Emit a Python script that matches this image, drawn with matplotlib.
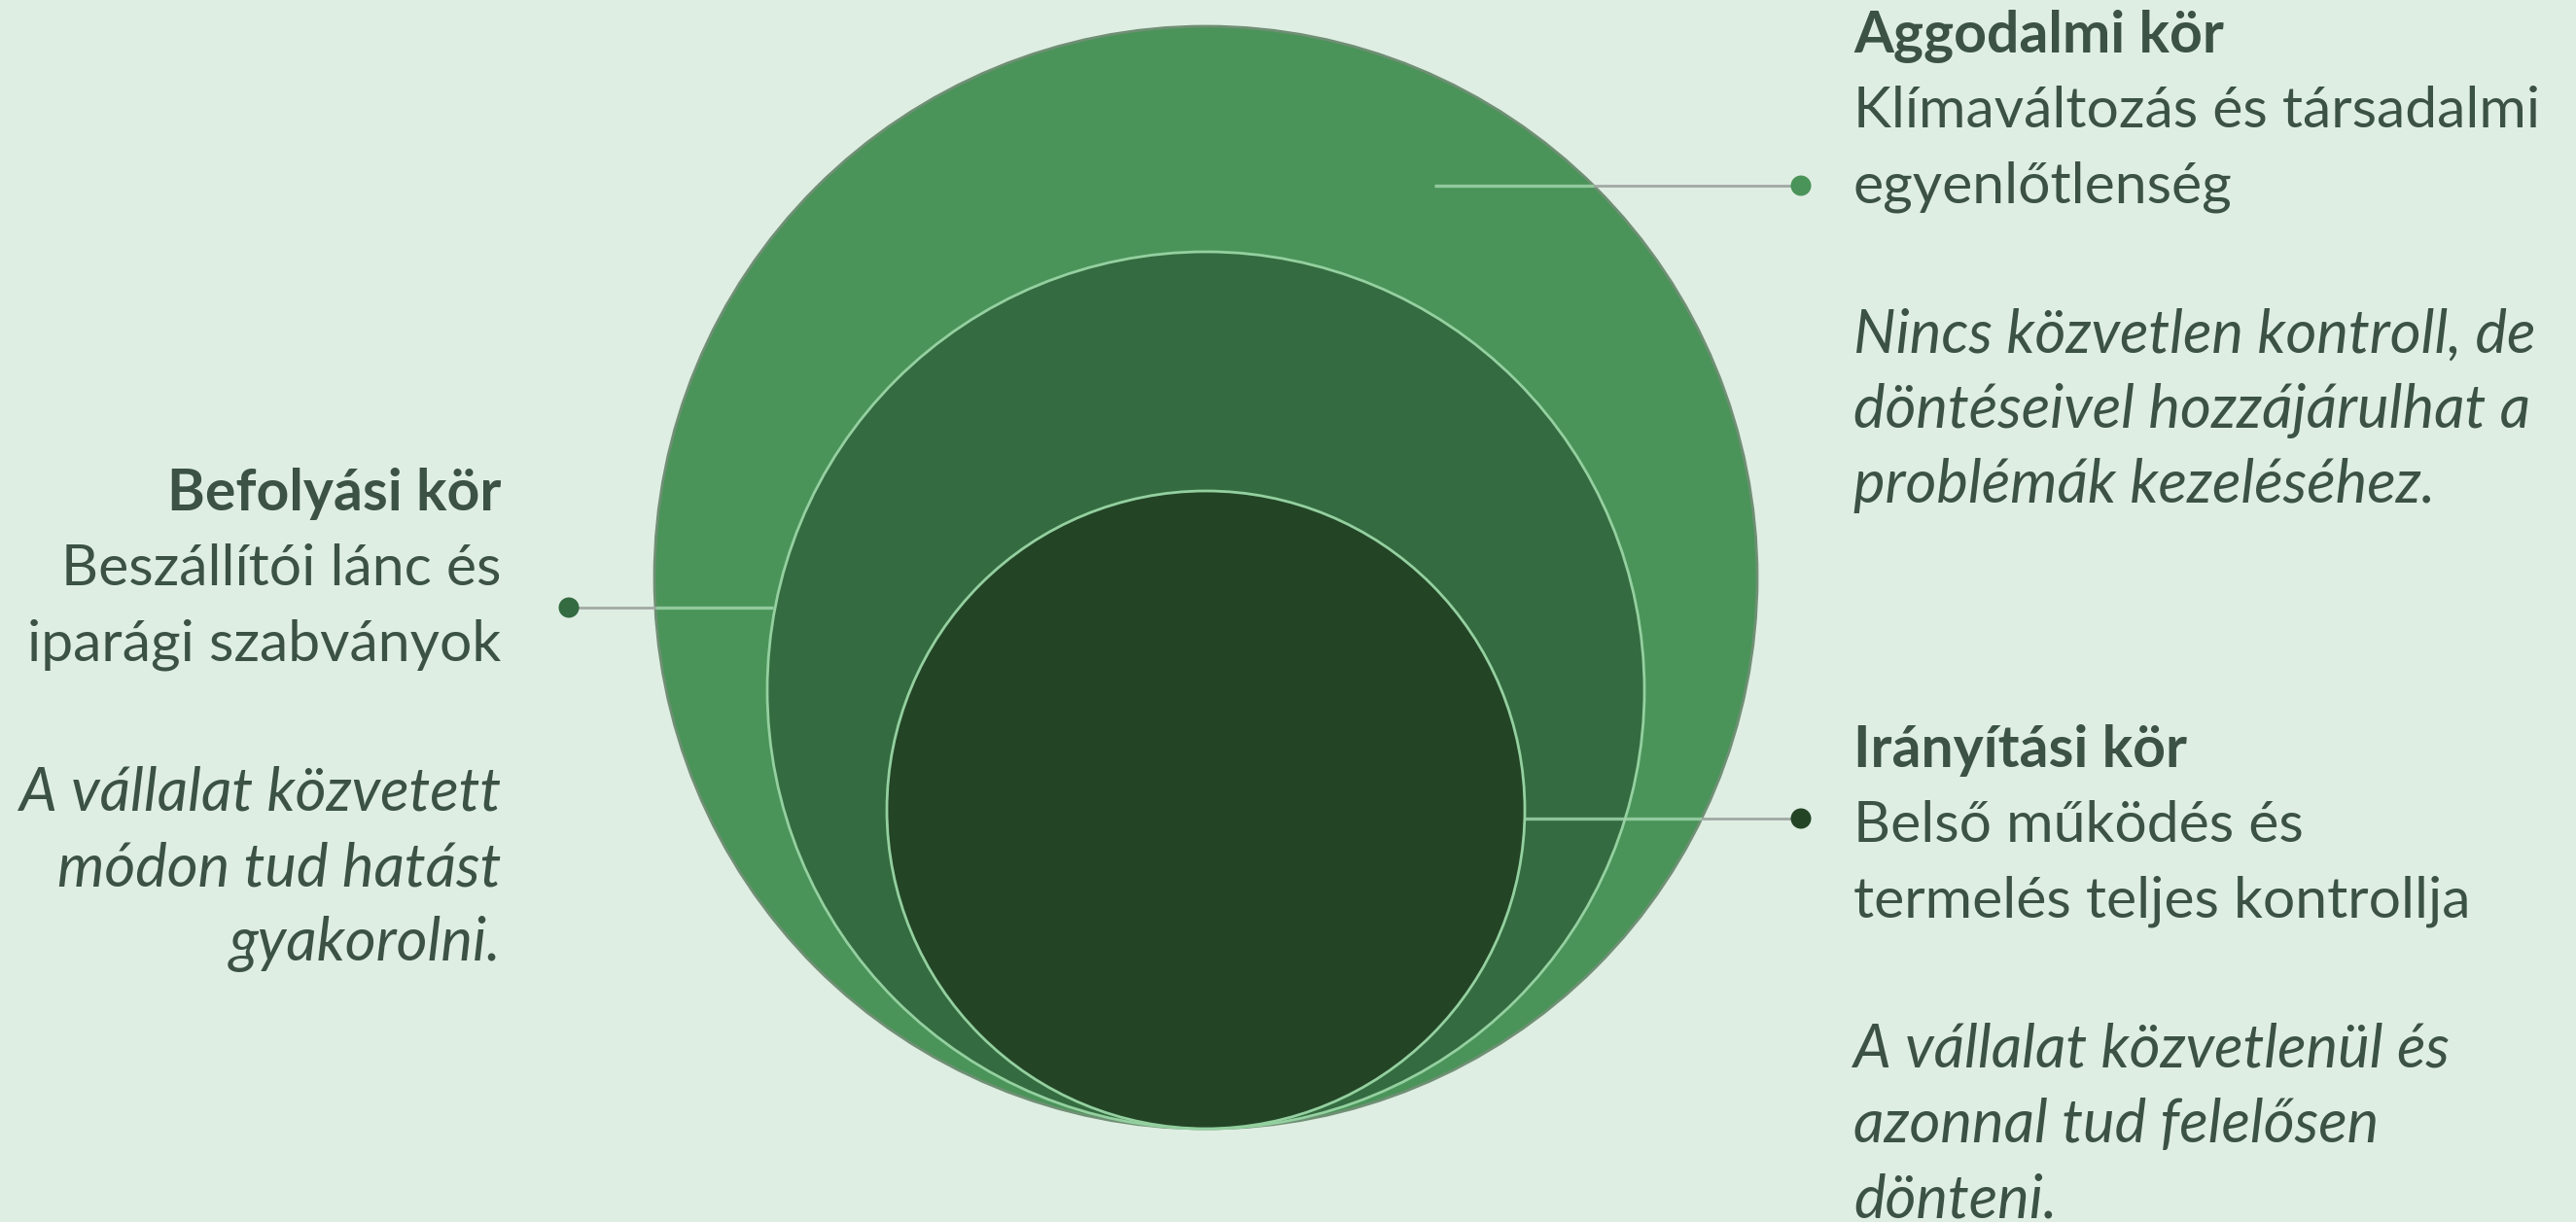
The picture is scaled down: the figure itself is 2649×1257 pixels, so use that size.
import matplotlib.pyplot as plt
from matplotlib.patches import Circle

# circles, from the outermost to the innermost
names = ["Aggodalmi kör", "Befolyási kör", "Irányítási kör"]
radii = [567, 451, 328]
descriptions = [
    ["Klímaváltozás és társadalmi", "egyenlőtlenség"],
    ["Beszállítói lánc és", "iparági szabványok"],
    ["Belső működés és", "termelés teljes kontrollja"],
]
notes = [
    ["Nincs közvetlen kontroll, de", "döntéseivel hozzájárulhat a", "problémák kezeléséhez."],
    ["A vállalat közvetett", "módon tud hatást", "gyakorolni."],
    ["A vállalat közvetlenül és", "azonnal tud felelősen", "dönteni."],
]

BG = "#dfeee3"
FILLS = ["#4a9459", "#346b40", "#234526"]
EDGES = ["#6f8f74", "#94d0a0", "#94d0a0"]
TXT = "#3b5244"
FONT = "Lato"

W, H = 2649, 1257
CX, BOTTOM = 1240, 1161

# label layout: (text x, align, first baseline, connector y, connector start x, dot x)
layout = [
    (1906, "left", 54, 191, 1475, 1852),
    (515, "right", 525, 625, 795, 585),
    (1906, "left", 789, 842, 1568, 1852),
]
LINE_H = 77.2

fig = plt.figure(figsize=(W / 100, H / 100), dpi=100)
fig.patch.set_facecolor(BG)
ax = fig.add_axes([0, 0, 1, 1])
ax.set_xlim(0, W)
ax.set_ylim(H, 0)
ax.axis("off")
ax.set_facecolor(BG)

for r, fc, ec in zip(radii, FILLS, EDGES):
    ax.add_patch(Circle((CX, BOTTOM - r), r, facecolor=fc, edgecolor=ec, lw=2.0, zorder=1))

# connectors: light part inside the circles, grey part outside
outer_r = radii[0]
outer_cy = BOTTOM - outer_r
for (tx, ha, y0, ly, x_start, x_dot), fc in zip(layout, FILLS):
    dx = (outer_r ** 2 - (ly - outer_cy) ** 2) ** 0.5
    x_edge = CX + dx if x_dot > CX else CX - dx
    ax.plot([x_start, x_edge], [ly, ly], color="#9fd3aa", lw=2.4, alpha=0.85,
            solid_capstyle="butt", zorder=3)
    ax.plot([x_edge, x_dot], [ly, ly], color="#a2a9a4", lw=2.0,
            solid_capstyle="butt", zorder=3)
    ax.add_patch(Circle((x_dot, ly), 10.5, facecolor=fc, edgecolor="none", zorder=4))


def fit_size(s, target, **kw):
    probe = ax.text(0, 0, s, fontsize=40, family=FONT, **kw)
    fig.canvas.draw()
    size = 40 * target / probe.get_window_extent().width
    probe.remove()
    return size


# fit font sizes to the reference widths of one regular and one italic line
fs = fit_size("Klímaváltozás és társadalmi", 706)
fs_it = fit_size("Nincs közvetlen kontroll, de", 701, fontstyle="italic")

for name, desc, note, (tx, ha, y0, *_rest) in zip(names, descriptions, notes, layout):
    lines = [(name, "bold", "normal", fs)] + [(d, "normal", "normal", fs) for d in desc]
    lines += [("", "normal", "normal", fs)] + [(n, "normal", "italic", fs_it) for n in note]
    for i, (s, weight, style, size) in enumerate(lines):
        if s:
            ax.text(tx, y0 + i * LINE_H, s, ha=ha, va="baseline", fontsize=size,
                    family=FONT, fontweight=weight, fontstyle=style, color=TXT, zorder=5)

fig.savefig("out.png", dpi=100, facecolor=BG)
